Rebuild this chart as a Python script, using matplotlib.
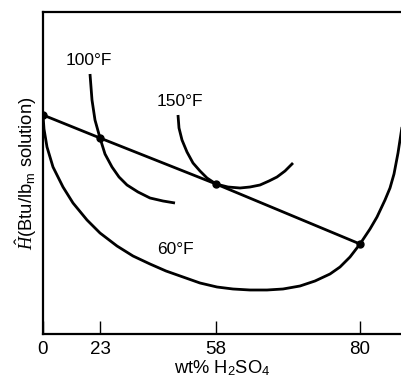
import matplotlib
matplotlib.use("Agg")
import matplotlib.pyplot as plt

plt.rcParams["font.family"] = ["Liberation Sans", "DejaVu Sans"]
plt.rcParams["mathtext.fontset"] = "custom"
plt.rcParams["mathtext.rm"] = "Liberation Sans"
plt.rcParams["mathtext.sf"] = "Liberation Sans"
plt.rcParams["mathtext.it"] = "Liberation Serif:italic"

# conceptual diagram: x is a position along the composition axis, y is arbitrary enthalpy
tick_pos = [0, 57, 173, 317]
tick_labels = ["0", "23", "58", "80"]

# 60 F isotherm
iso60_x = [0, 1, 4, 10, 20, 30, 44, 57, 74, 90, 107, 123, 140, 157, 174, 190, 207, 224, 240, 257, 272, 287, 297, 307, 317, 327, 334, 342, 347, 351, 355, 359]
iso60_y = [219, 205, 187, 167, 147, 131, 114, 101, 88, 78, 70, 63, 57, 51, 47, 45, 44, 44, 45, 48, 53, 60, 67, 77, 90, 105, 117, 134, 146, 160, 181, 207]

# 100 F isotherm
iso100_x = [47, 48, 49, 52, 57, 62, 69, 76, 84, 95, 107, 120, 132]
iso100_y = [260, 247, 234, 214, 196, 180, 167, 157, 149, 142, 136, 133, 131]

# 150 F isotherm
iso150_x = [135, 136, 139, 144, 150, 157, 164, 173, 185, 197, 207, 217, 226, 234, 242, 250]
iso150_y = [219, 206, 194, 182, 171, 163, 156, 150, 147, 146, 147, 149, 153, 157, 163, 171]

# tie line and its points
tie_x = [0, 57, 173, 317]
tie_y = [219, 196, 150, 90]

fig = plt.figure(figsize=(4.02, 3.78), dpi=100)
ax = fig.add_axes([43 / 402, 44 / 378, 359 / 402, 322 / 378])

lw = 2.0
ax.plot(iso60_x, iso60_y, color="black", lw=lw, solid_capstyle="butt", solid_joinstyle="round")
ax.plot(iso100_x, iso100_y, color="black", lw=lw, solid_capstyle="butt", solid_joinstyle="round")
ax.plot(iso150_x, iso150_y, color="black", lw=lw, solid_capstyle="butt", solid_joinstyle="round")
ax.plot(tie_x, tie_y, color="black", lw=lw, marker="o", markersize=5)

fs = 12.5
ax.text(46, 274, "100°F", fontsize=fs, ha="center", va="center")
ax.text(137, 232, "150°F", fontsize=fs, ha="center", va="center")
ax.text(132, 84, "60°F", fontsize=fs, ha="center", va="center")

ax.set_xlim(0, 359)
ax.set_ylim(0, 322)
ax.set_xticks(tick_pos)
ax.set_xticklabels(tick_labels, fontsize=13.5)
ax.set_yticks([])
ax.tick_params(axis="x", direction="in", length=9.5, width=1.0, pad=5)
for side in ["left", "top", "bottom"]:
    ax.spines[side].set_linewidth(1.6)
ax.spines["right"].set_visible(False)

ax.set_xlabel("wt% H$_2$SO$_4$", fontsize=13.2, labelpad=0)
ax.set_ylabel(r"$\hat{H}$(Btu/lb$_\mathrm{m}$ solution)", fontsize=13.2, labelpad=3)

fig.savefig("out.png", dpi=100)
